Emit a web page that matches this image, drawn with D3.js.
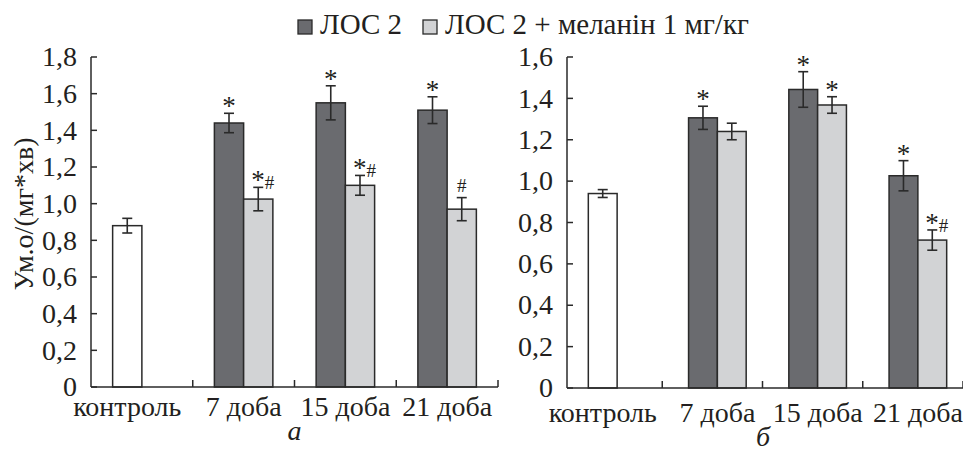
<!DOCTYPE html>
<html>
<head>
<meta charset="utf-8">
<script src="https://cdn.jsdelivr.net/npm/d3@7"></script>
</head>
<body style="margin:0">
<script>
// --- datos ---
const categories = ["контроль", "7 доба", "15 доба", "21 доба"];
const seriesNames = ["ЛОС 2", "ЛОС 2 + меланін 1 мг/кг"];

// panel а
const meanA1 = [0.88, 1.44, 1.55, 1.51];
const errA1  = [0.04, 0.053, 0.093, 0.073];
const meanA2 = [null, 1.025, 1.10, 0.97];
const errA2  = [null, 0.064, 0.054, 0.063];
const markA1 = ["", "*", "*", "*"];
const markA2 = ["", "*#", "*#", "#"];
const ticksA = [0, 0.2, 0.4, 0.6, 0.8, 1.0, 1.2, 1.4, 1.6, 1.8];

// panel б
const meanB1 = [0.94, 1.306, 1.443, 1.026];
const errB1  = [0.019, 0.056, 0.086, 0.073];
const meanB2 = [null, 1.24, 1.368, 0.715];
const errB2  = [null, 0.04, 0.04, 0.049];
const markB1 = ["", "*", "*", "*"];
const markB2 = ["", "", "*", "*#"];
const ticksB = [0, 0.2, 0.4, 0.6, 0.8, 1.0, 1.2, 1.4, 1.6];

const yLabel = "Ум.о/(мг*хв)";

const colors = ["#6a6b6f", "#d2d3d5"];
const controlFill = "#ffffff";
const stroke = "#2a2a2a";
const textColor = "#231f20";
const FONT = "Times New Roman, Tinos, Liberation Serif, serif";

const W = 963, H = 451;
const svg = d3.select("body").append("svg")
    .attr("width", W)
    .attr("height", H)
    .attr("font-family", FONT);

const fmt = v => v === 0 ? "0" : d3.format(".1f")(v).replace(".", ",");

// texto con fuente serif
function addText(sel, size) {
    return sel.append("text")
        .attr("font-family", FONT)
        .attr("font-size", size)
        .attr("fill", textColor);
}

function drawPanel(cfg) {
    const g = svg.append("g");

    const x = d3.scaleBand()
        .domain(categories)
        .range(cfg.xRange)
        .paddingInner(0)
        .paddingOuter(0);

    const x1 = d3.scaleBand()
        .domain([0, 1])
        .range([0, x.bandwidth()])
        .paddingInner(0)
        .paddingOuter(0.74);

    const y = d3.scaleLinear()
        .domain([0, d3.max(cfg.ticks)])
        .range(cfg.yRange);

    // eje Y (linea + ticks hacia dentro)
    g.append("line")
        .attr("x1", cfg.xRange[0]).attr("x2", cfg.xRange[0])
        .attr("y1", y(0)).attr("y2", y(d3.max(cfg.ticks)))
        .attr("stroke", stroke).attr("stroke-width", 1.5);
    cfg.ticks.forEach(t => {
        g.append("line")
            .attr("x1", cfg.xRange[0]).attr("x2", cfg.xRange[0] + 6)
            .attr("y1", y(t)).attr("y2", y(t))
            .attr("stroke", stroke).attr("stroke-width", 1.5);
        addText(g, 28)
            .attr("x", cfg.xRange[0] - 14)
            .attr("y", y(t))
            .attr("dy", "0.33em")
            .attr("text-anchor", "end")
            .text(fmt(t));
    });

    // barras
    const rows = categories.map((c, i) => ({
        cat: c,
        vals: [
            { s: 0, v: cfg.m1[i], e: cfg.e1[i], mark: cfg.k1[i] },
            { s: 1, v: cfg.m2[i], e: cfg.e2[i], mark: cfg.k2[i] }
        ].filter(d => d.v != null)
    }));

    const cap = 5;
    rows.forEach(r => {
        const gx = x(r.cat);
        r.vals.forEach(d => {
            const cx = gx + x1(d.s) + x1.bandwidth() / 2;
            g.append("rect")
                .attr("x", gx + x1(d.s))
                .attr("width", x1.bandwidth())
                .attr("y", y(d.v))
                .attr("height", y(0) - y(d.v))
                .attr("fill", r.cat === categories[0] ? controlFill : colors[d.s])
                .attr("stroke", stroke)
                .attr("stroke-width", 1.5);

            // barra de error
            g.append("line")
                .attr("x1", cx).attr("x2", cx)
                .attr("y1", y(d.v - d.e)).attr("y2", y(d.v + d.e))
                .attr("stroke", stroke).attr("stroke-width", 1.6);
            [-1, 1].forEach(sg => {
                g.append("line")
                    .attr("x1", cx - cap).attr("x2", cx + cap)
                    .attr("y1", y(d.v + sg * d.e)).attr("y2", y(d.v + sg * d.e))
                    .attr("stroke", stroke).attr("stroke-width", 1.6);
            });

            // marcas de significancia
            if (d.mark !== "") {
                const t = addText(g, 27)
                    .attr("x", cx - (d.mark.length > 1 ? 7 : 0))
                    .attr("y", y(d.v + d.e) + (d.mark === "#" ? -6 : 2))
                    .attr("text-anchor", d.mark.length > 1 ? "start" : "middle");
                d.mark.split("").forEach(ch => {
                    t.append("tspan")
                        .attr("font-size", ch === "*" ? 27 : 19)
                        .text(ch);
                });
            }
        });

        // etiqueta de categoria
        addText(g, 28)
            .attr("x", gx + x1(0) + r.vals.length * x1.bandwidth() / 2)
            .attr("y", cfg.labelY)
            .attr("text-anchor", "middle")
            .text(r.cat);
    });

    // eje X
    g.append("line")
        .attr("x1", cfg.xRange[0]).attr("x2", cfg.xRange[1])
        .attr("y1", y(0)).attr("y2", y(0))
        .attr("stroke", stroke).attr("stroke-width", 1.5);
    categories.forEach(c => {
        const tx = x(c) + x.bandwidth() + cfg.tickShift;
        g.append("line")
            .attr("x1", tx).attr("x2", tx)
            .attr("y1", y(0)).attr("y2", y(0) - 7)
            .attr("stroke", stroke).attr("stroke-width", 1.5);
    });

    // letra del panel
    addText(g, 28)
        .attr("x", (cfg.xRange[0] + Math.min(cfg.xRange[1], W)) / 2 + cfg.captionShift)
        .attr("y", cfg.captionY)
        .attr("text-anchor", "middle")
        .attr("font-style", "italic")
        .text(cfg.caption);
}

drawPanel({
    xRange: [91, 498], yRange: [387, 57], ticks: ticksA,
    m1: meanA1, e1: errA1, m2: meanA2, e2: errA2, k1: markA1, k2: markA2,
    labelY: 416, caption: "а", captionY: 440, captionShift: 0, tickShift: 0
});

drawPanel({
    xRange: [567, 968], yRange: [388, 57], ticks: ticksB,
    m1: meanB1, e1: errB1, m2: meanB2, e2: errB2, k1: markB1, k2: markB2,
    labelY: 422, caption: "б", captionY: 446, captionShift: -2, tickShift: -5
});

// etiqueta eje Y
addText(svg, 28)
    .attr("transform", "translate(33,214) rotate(-90)")
    .attr("text-anchor", "middle")
    .text(yLabel);

// leyenda
const legendX = [298, 423];
seriesNames.forEach((name, i) => {
    svg.append("rect")
        .attr("x", legendX[i]).attr("y", 20)
        .attr("width", 14).attr("height", 14)
        .attr("fill", colors[i])
        .attr("stroke", stroke).attr("stroke-width", 1.3);
    addText(svg, 29)
        .attr("x", legendX[i] + 22).attr("y", 34)
        .text(name);
});
</script>
</body>
</html>
